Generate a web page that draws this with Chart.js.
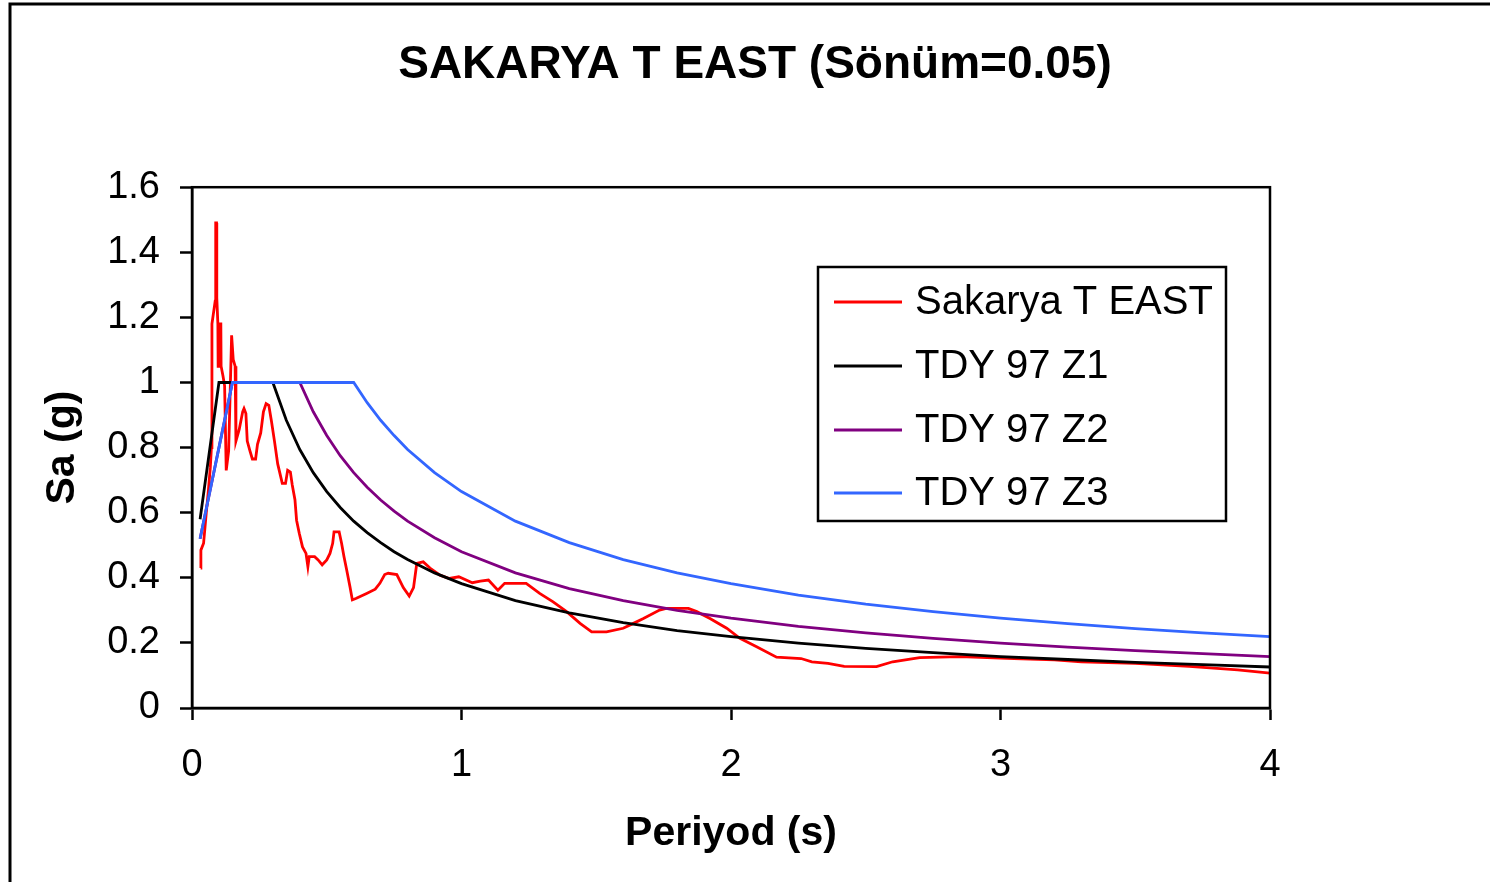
<!DOCTYPE html>
<html>
<head>
<meta charset="utf-8">
<script src="https://cdn.jsdelivr.net/npm/chart.js@4/dist/chart.umd.min.js"></script>
<style>
  html, body { margin: 0; padding: 0; background: #ffffff; }
  canvas { display: block; }
</style>
</head>
<body>
<canvas id="c" width="1490" height="882"></canvas>
<script>
// ---- Data ----
const chartTitle = 'SAKARYA T EAST (Sönüm=0.05)';
const xAxisTitle = 'Periyod (s)';
const yAxisTitle = 'Sa (g)';
const seriesNames = ['Sakarya T EAST', 'TDY 97 Z1', 'TDY 97 Z2', 'TDY 97 Z3'];
const seriesColors = ['#ff0000', '#000000', '#800080', '#3366ff'];

const xTicks = [0, 1, 2, 3, 4];
const xTickLabels = ['0', '1', '2', '3', '4'];
const yTicks = [0, 0.2, 0.4, 0.6, 0.8, 1.0, 1.2, 1.4, 1.6];
const yTickLabels = ['0', '0.2', '0.4', '0.6', '0.8', '1', '1.2', '1.4', '1.6'];

// recorded spectrum (period s, Sa g)
const redT = [0.032, 0.033, 0.043, 0.053, 0.061, 0.068, 0.072, 0.074, 0.086, 0.088,
  0.091, 0.092, 0.096, 0.097, 0.101, 0.102, 0.107, 0.108, 0.115, 0.121,
  0.127, 0.136, 0.141, 0.147, 0.153, 0.160, 0.163, 0.175, 0.188, 0.193,
  0.200, 0.205, 0.215, 0.224, 0.236, 0.243, 0.255, 0.265, 0.275, 0.285,
  0.295, 0.306, 0.318, 0.335, 0.347, 0.355, 0.365, 0.372, 0.382, 0.388,
  0.398, 0.410, 0.423, 0.430, 0.435, 0.455, 0.468, 0.483, 0.500, 0.512,
  0.522, 0.527, 0.546, 0.555, 0.564, 0.574, 0.586, 0.595, 0.610, 0.648,
  0.680, 0.697, 0.715, 0.728, 0.760, 0.784, 0.806, 0.822, 0.834, 0.858,
  0.883, 0.920, 0.955, 0.990, 1.040, 1.070, 1.100, 1.135, 1.160, 1.240,
  1.290, 1.340, 1.390, 1.440, 1.483, 1.538, 1.600, 1.638, 1.675, 1.735,
  1.760, 1.842, 1.873, 1.922, 1.984, 2.033, 2.095, 2.169, 2.260, 2.300,
  2.360, 2.420, 2.540, 2.600, 2.700, 2.850, 2.950, 3.050, 3.200, 3.300,
  3.500, 3.700, 3.880, 4.000];
const redSa = [0.43, 0.485, 0.506, 0.60, 0.67, 0.74, 0.80, 1.18, 1.25, 1.49,
  1.49, 1.26, 1.18, 1.05, 1.05, 1.18, 1.18, 1.05, 1.02, 0.99,
  0.73, 0.79, 0.95, 1.145, 1.07, 1.05, 0.82, 0.855, 0.91, 0.92,
  0.905, 0.82, 0.79, 0.765, 0.765, 0.81, 0.845, 0.91, 0.935, 0.93,
  0.88, 0.82, 0.75, 0.69, 0.69, 0.73, 0.725, 0.685, 0.64, 0.577,
  0.537, 0.495, 0.475, 0.434, 0.465, 0.465, 0.455, 0.44, 0.455, 0.475,
  0.506, 0.541, 0.541, 0.506, 0.465, 0.424, 0.373, 0.332, 0.337, 0.352,
  0.365, 0.383, 0.41, 0.414, 0.41, 0.37, 0.344, 0.37, 0.444, 0.449,
  0.43, 0.408, 0.398, 0.403, 0.385, 0.39, 0.393, 0.362, 0.383, 0.383,
  0.352, 0.326, 0.296, 0.26, 0.234, 0.234, 0.245, 0.26, 0.275, 0.301,
  0.306, 0.306, 0.296, 0.275, 0.245, 0.214, 0.188, 0.156, 0.152, 0.142,
  0.137, 0.128, 0.127, 0.142, 0.155, 0.158, 0.155, 0.152, 0.148, 0.142,
  0.137, 0.128, 0.117, 0.107];

// design spectra (shared period grid)
const codeT = [0.03, 0.10, 0.15, 0.30, 0.35, 0.40, 0.45, 0.50, 0.55, 0.60,
  0.65, 0.70, 0.75, 0.80, 0.90, 1.00, 1.20, 1.40, 1.60, 1.80,
  2.00, 2.25, 2.50, 2.75, 3.00, 3.25, 3.50, 3.75, 4.00];
const z1Sa = [0.58, 1.00, 1.00, 1.00, 0.884, 0.794, 0.723, 0.665, 0.616, 0.574,
  0.539, 0.508, 0.480, 0.456, 0.415, 0.382, 0.330, 0.292, 0.262, 0.238,
  0.219, 0.199, 0.183, 0.170, 0.158, 0.149, 0.140, 0.133, 0.126];
const z2Sa = [0.52, 0.80, 1.00, 1.00, 1.00, 1.00, 0.910, 0.837, 0.775, 0.723,
  0.678, 0.639, 0.605, 0.574, 0.523, 0.480, 0.415, 0.367, 0.330, 0.300,
  0.276, 0.251, 0.231, 0.214, 0.199, 0.187, 0.176, 0.167, 0.158];
const z3Sa = [0.52, 0.80, 1.00, 1.00, 1.00, 1.00, 1.00, 1.00, 1.00, 1.00,
  0.938, 0.884, 0.837, 0.794, 0.723, 0.665, 0.574, 0.508, 0.456, 0.415,
  0.382, 0.347, 0.319, 0.296, 0.276, 0.259, 0.244, 0.231, 0.219];

// ---- Chart ----
const FONT = "'Liberation Sans', Arial, sans-serif";
const toXY = (xs, ys) => xs.map((x, i) => ({ x: x, y: ys[i] }));

const seriesData = [toXY(redT, redSa), toXY(codeT, z1Sa), toXY(codeT, z2Sa), toXY(codeT, z3Sa)];

const frameAndLegend = {
  id: 'frameAndLegend',
  beforeDraw(chart) {
    const ctx = chart.ctx;
    ctx.save();
    ctx.fillStyle = '#ffffff';
    ctx.fillRect(0, 0, chart.width, chart.height);
    ctx.strokeStyle = '#000000';
    ctx.lineWidth = 3;
    ctx.beginPath();
    ctx.moveTo(10, 900);
    ctx.lineTo(10, 4);
    ctx.lineTo(1500, 4);
    ctx.stroke();
    ctx.restore();
  },
  afterDraw(chart) {
    const ctx = chart.ctx;
    const a = chart.chartArea;
    ctx.save();
    // plot frame
    ctx.strokeStyle = '#000000';
    ctx.lineWidth = 2.5;
    ctx.strokeRect(a.left, a.top, a.right - a.left, a.bottom - a.top);
    // legend box
    const bx = 818, by = 267, bw = 408, bh = 254;
    ctx.fillStyle = '#ffffff';
    ctx.fillRect(bx, by, bw, bh);
    ctx.lineWidth = 2.5;
    ctx.strokeRect(bx, by, bw, bh);
    const rows = [302, 366, 430, 493];
    ctx.font = '40px ' + FONT;
    ctx.textBaseline = 'middle';
    ctx.textAlign = 'left';
    chart.data.datasets.forEach((ds, i) => {
      ctx.strokeStyle = ds.borderColor;
      ctx.lineWidth = 3;
      ctx.beginPath();
      ctx.moveTo(834, rows[i]);
      ctx.lineTo(902, rows[i]);
      ctx.stroke();
      ctx.fillStyle = '#000000';
      ctx.fillText(ds.label, 915, rows[i] + 1);
    });
    ctx.restore();
  }
};

new Chart(document.getElementById('c'), {
  type: 'line',
  data: {
    datasets: seriesNames.map((name, i) => ({
      label: name,
      data: seriesData[i],
      borderColor: seriesColors[i],
      backgroundColor: seriesColors[i],
      borderWidth: 2.8,
      pointRadius: 0,
      tension: 0,
      fill: false,
      order: 4 - i
    }))
  },
  options: {
    responsive: false,
    devicePixelRatio: 1,
    animation: false,
    layout: { padding: { left: 20, top: 0, right: 0, bottom: 0 } },
    plugins: {
      legend: { display: false },
      tooltip: { enabled: false },
      title: {
        display: true,
        text: chartTitle,
        color: '#000000',
        font: { family: FONT, size: 46, weight: 'bold', lineHeight: 1.2 },
        padding: { top: 38, bottom: 94 }
      }
    },
    scales: {
      x: {
        type: 'linear',
        min: 0, max: 4,
        afterBuildTicks: (s) => { s.ticks = xTicks.map(v => ({ value: v })); },
        afterFit: (s) => { s.height = 174; },
        ticks: {
          color: '#000000',
          font: { family: FONT, size: 38, lineHeight: 1.2 },
          padding: 23,
          maxRotation: 0,
          callback: (v) => { const k = xTicks.indexOf(v); return k >= 0 ? xTickLabels[k] : ''; }
        },
        grid: { display: true, drawOnChartArea: false, drawTicks: true, tickLength: 12, tickColor: '#000000', tickWidth: 2.5 },
        border: { display: true, color: '#000000', width: 2.5 },
        title: {
          display: true, text: xAxisTitle, color: '#000000',
          font: { family: FONT, size: 41, weight: 'bold', lineHeight: 1.2 },
          padding: { top: 0, bottom: 24 }
        }
      },
      y: {
        type: 'linear',
        min: 0, max: 1.6,
        afterBuildTicks: (s) => { s.ticks = yTicks.map(v => ({ value: v })); },
        afterFit: (s) => { s.width = 172; },
        ticks: {
          color: '#000000',
          font: { family: FONT, size: 38, lineHeight: 1.2 },
          padding: 20,
          callback: (v) => {
            const k = yTicks.findIndex(t => Math.abs(t - v) < 1e-9);
            return k >= 0 ? yTickLabels[k] : '';
          }
        },
        grid: { display: true, drawOnChartArea: false, drawTicks: true, tickLength: 12, tickColor: '#000000', tickWidth: 2.5 },
        border: { display: true, color: '#000000', width: 2.5 },
        title: {
          display: true, text: yAxisTitle, color: '#000000',
          font: { family: FONT, size: 41, weight: 'bold', lineHeight: 1.2 },
          padding: { top: 18, bottom: 0 }
        }
      },
      spacer: {
        type: 'linear',
        position: 'right',
        display: true,
        min: 0, max: 1,
        afterFit: (s) => { s.width = 220; },
        ticks: { display: false },
        grid: { display: false, drawTicks: false },
        border: { display: false }
      }
    }
  },
  plugins: [frameAndLegend]
});
</script>
</body>
</html>
